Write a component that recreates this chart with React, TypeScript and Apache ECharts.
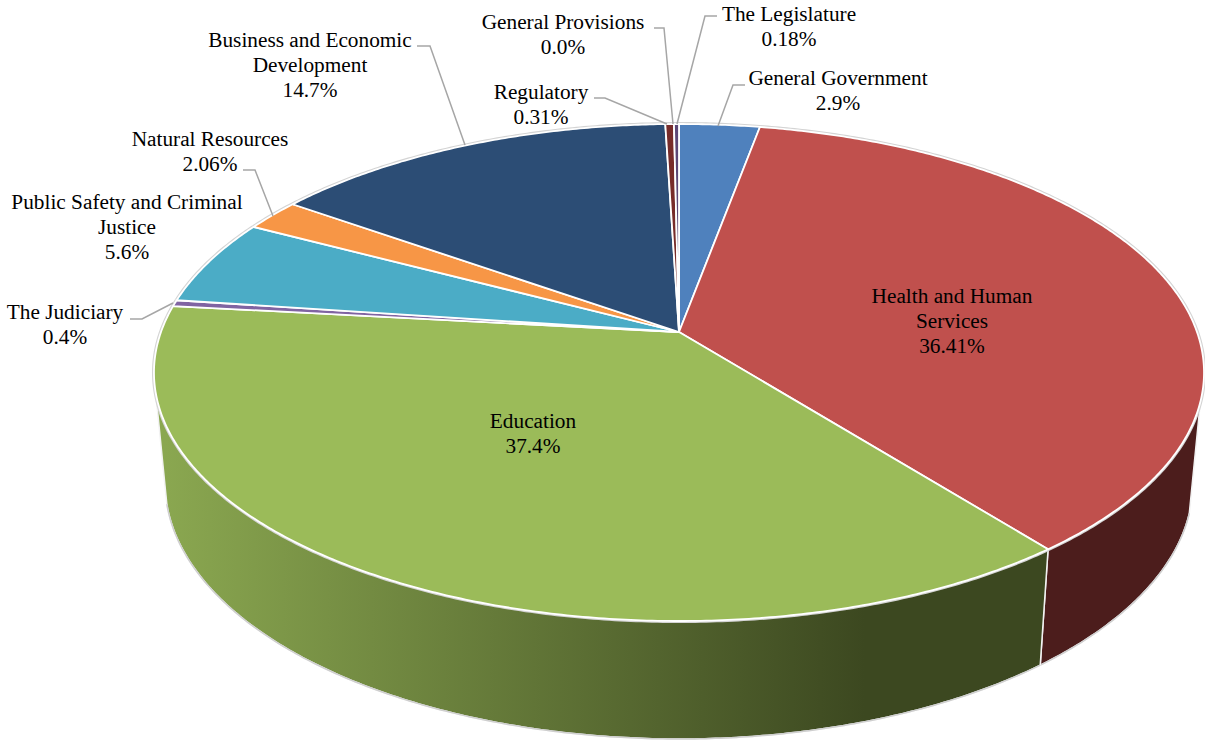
import React, { useEffect, useRef } from "react";
import * as echarts from "echarts";

const categories = [
  "General Government",
  "Health and Human\nServices",
  "Education",
  "The Judiciary",
  "Public Safety and Criminal\nJustice",
  "Natural Resources",
  "Business and Economic\nDevelopment",
  "Regulatory",
  "General Provisions",
  "The Legislature",
];
const values = [2.9, 36.41, 37.4, 0.4, 5.6, 2.06, 14.7, 0.31, 0.0, 0.18];
const valueLabels = ["2.9%", "36.41%", "37.4%", "0.4%", "5.6%", "2.06%", "14.7%", "0.31%", "0.0%", "0.18%"];

const topColors = ["#4f81bd", "#c0504d", "#9bbb59", "#8064a2", "#4bacc6", "#f79646", "#2c4d75", "#772c2a", "#5f7530", "#5c4776"];

// label layout: [centre x, top y of first line]
const labelAnchors: number[][] = [
  [838, 66], [952, 284], [533, 409], [65, 300], [127, 190], [210, 127], [310, 28], [541, 80], [563, 10], [789, 2],
];
const leaders: (number[][] | null)[] = [
  [[745, 85], [733, 85], [718, 126]],
  null,
  null,
  [[130, 319], [142, 319], [173, 303]],
  null,
  [[243, 170], [255, 170], [273, 216]],
  [[417, 46], [430, 46], [465, 145]],
  [[594, 98], [605, 98], [667, 124]],
  [[654, 28], [664, 28], [673, 124]],
  [[717, 16], [705, 16], [677, 124]],
];

// projective view of the pie disc
const K = 0.163;
const top = { cx: 679, cy: 332, rx: 518, ry: 241.9 };
const bottom = { cx: 679, cy: 441.5, rx: 507, ry: 249 };
const SIDE_FROM = 106;
const SIDE_TO = 256;

const total = values.reduce((a, b) => a + b, 0);
const starts: number[] = [];
values.reduce((acc, v, i) => {
  starts[i] = (acc / total) * 360;
  return acc + v;
}, 0);

function project(deg: number, d: typeof top): number[] {
  const t = (deg * Math.PI) / 180;
  const x = Math.sin(t);
  const y = -Math.cos(t);
  const u = 1 - K * y;
  return [d.cx + (d.rx * x) / u, d.cy + (d.ry * y) / u];
}
function arc(a: number, b: number, d: typeof top): number[][] {
  const n = Math.max(1, Math.ceil(Math.abs(b - a) / 0.5));
  const pts: number[][] = [];
  for (let i = 0; i <= n; i++) pts.push(project(a + ((b - a) * i) / n, d));
  return pts;
}
const sideFill = (i: number) =>
  i === 2
    ? new echarts.graphic.LinearGradient(165, 0, 1040, 0, [
        { offset: 0, color: "#8aa750" },
        { offset: 0.8, color: "#3c4820" },
        { offset: 1, color: "#3c4820" },
      ], true)
    : "#4c1d1c";

const dataRows = values.map((v, i) => ({ name: categories[i].replace("\n", " "), value: v }));

const sideSeries = {
  type: "custom",
  coordinateSystem: "none",
  silent: true,
  z: 1,
  data: dataRows,
  renderItem: (p: any, api: any) => {
    const i = p.dataIndex;
    const a = Math.max(starts[i], SIDE_FROM);
    const b = Math.min(starts[i] + (api.value(0) / total) * 360, SIDE_TO);
    const children: any[] = [];
    if (b > a) {
      const upper = arc(a, b, top);
      const lower = arc(a, b, bottom);
      children.push({
        type: "polygon",
        shape: { points: upper.concat(lower.slice().reverse()) },
        style: { fill: sideFill(i), stroke: "#f2f2f2", lineWidth: 1.5 },
      });
      children.push({
        type: "polyline",
        shape: { points: lower },
        style: { fill: "none", stroke: "#cfcfcf", lineWidth: 1.5 },
      });
    }
    return { type: "group", children };
  },
};

const topSeries = {
  type: "custom",
  coordinateSystem: "none",
  silent: true,
  z: 2,
  data: dataRows,
  renderItem: (p: any, api: any) => {
    const i = p.dataIndex;
    const a = starts[i];
    const b = a + (api.value(0) / total) * 360;
    if (b - a <= 0) return { type: "group", children: [] };
    const pts = arc(a, b, top);
    return {
      type: "group",
      children: [
        {
          type: "polyline",
          shape: { points: pts },
          style: { fill: "none", stroke: "#d4d4d4", lineWidth: 4 },
        },
        {
          type: "polygon",
          shape: { points: [[top.cx, top.cy]].concat(pts) },
          style: { fill: topColors[i], stroke: "#ffffff", lineWidth: 1.8, lineJoin: "round" },
        },
      ],
    };
  },
};

const labelSeries = {
  type: "custom",
  coordinateSystem: "none",
  silent: true,
  z: 3,
  data: dataRows,
  renderItem: (p: any) => {
    const i = p.dataIndex;
    const children: any[] = [];
    const leader = leaders[i];
    if (leader) {
      children.push({
        type: "polyline",
        shape: { points: leader },
        style: { fill: "none", stroke: "#a6a6a6", lineWidth: 1.5 },
      });
    }
    children.push({
      type: "text",
      style: {
        text: categories[i] + "\n" + valueLabels[i],
        x: labelAnchors[i][0],
        y: labelAnchors[i][1],
        align: "center",
        verticalAlign: "top",
        fill: "#000000",
        fontFamily: '"Liberation Serif", serif',
        fontSize: 21.3,
        lineHeight: 24.7,
      },
    });
    return { type: "group", children };
  },
};

export default function App() {
  const ref = useRef<HTMLDivElement>(null);
  useEffect(() => {
    const chart = echarts.init(ref.current!, null, { renderer: "svg" });
    chart.setOption({
      animation: false,
      backgroundColor: "#ffffff",
      series: [sideSeries, topSeries, labelSeries],
    });
    return () => chart.dispose();
  }, []);
  return <div ref={ref} style={{ position: "absolute", left: 0, top: 0, width: 1205, height: 740 }} />;
}
